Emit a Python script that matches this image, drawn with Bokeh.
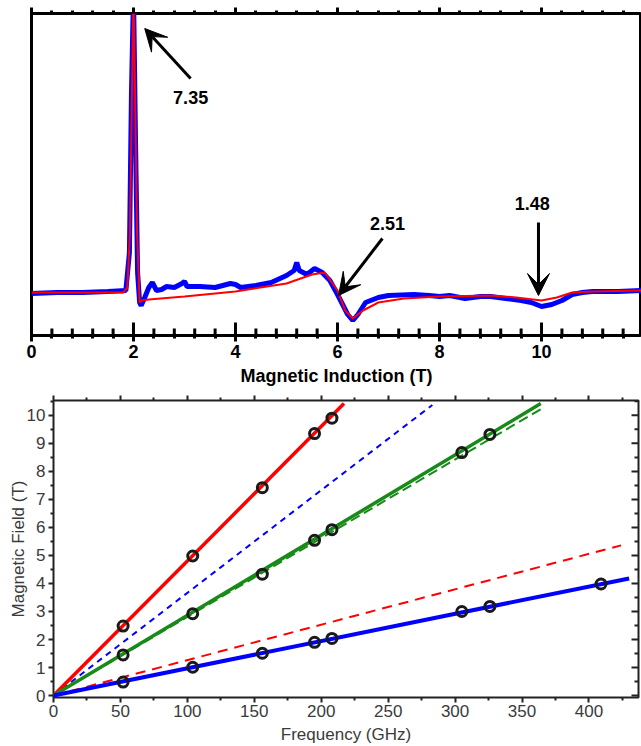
import numpy as np
from bokeh.plotting import figure
from bokeh.layouts import column
from bokeh.models import (Range1d, Arrow, VeeHead, Label, FixedTicker, LinearAxis,
                          CustomJSTickFormatter)
from bokeh.embed import file_html
from bokeh.resources import INLINE

# ---------------- top panel: EPR spectrum (arbitrary intensity units) -------------
field_sim = [0.0, 1.8, 1.88, 1.93, 1.97, 2.0, 2.03, 2.07, 2.12, 2.16, 2.3, 3.0, 4.0,
             5.0, 5.5, 5.75, 6.0, 6.15, 6.3, 6.5, 6.8, 7.3, 8.0, 9.0, 9.5, 10.0,
             10.3, 10.6, 11.0, 12.0]
signal_sim = [0, 0, 5, 60, 200, 300, 200, 60, -10, -8, -7, -4, 1,
              9, 18, 20, 2, -18, -26, -18, -10, -6, -4, -3, -5, -8,
              -5, 0, 1, 2]

field_exp = [0.0, 0.5, 1.0, 1.5, 1.85, 1.92, 1.96, 2.0, 2.04, 2.08, 2.12, 2.15,
             2.22, 2.3, 2.37, 2.45, 2.55, 2.65, 2.8, 2.95, 3.0, 3.05, 3.3, 3.6,
             3.9, 4.0, 4.1, 4.4, 4.7, 5.0, 5.15, 5.2, 5.25, 5.4, 5.55, 5.7, 5.85,
             6.0, 6.1, 6.2, 6.3, 6.4, 6.55, 6.8, 7.0, 7.5, 7.8, 8.0, 8.2, 8.5,
             8.8, 9.0, 9.3, 9.6, 9.8, 10.0, 10.2, 10.4, 10.6, 10.8, 11.0, 11.5, 12.0]
signal_exp = [-1, 0, 0, 1, 2, 40, 200, 300, 150, 20, -10, -13,
              -5, 5, 10, 2, 3, 6, 5, 9, 11, 6, 6, 5,
              9, 8, 5, 7, 10, 17, 22, 30, 22, 18, 24, 20, 12,
              -2, -12, -22, -28, -22, -10, -5, -3, -2, -3, -4, -3, -6,
              -4, -4, -6, -8, -10, -14, -12, -8, -2, 0, 1, 1, 2]

top_ticks = [0, 2, 4, 6, 8, 10]
top_minor = [0.4, 0.8, 1.2, 1.6, 2.4, 2.8, 3.2, 3.6, 4.4, 4.8, 5.2, 5.6,
             6.4, 6.8, 7.2, 7.6, 8.4, 8.8, 9.2, 9.6, 10.4, 10.8, 11.2, 11.6]

# ---------------- bottom panel: frequency-field diagram -------------------------
freq_red = [52, 104, 156, 195, 208]
field_red = [2.48, 4.98, 7.42, 9.35, 9.9]
freq_green = [52, 104, 156, 195, 208, 305, 326]
field_green = [1.45, 2.92, 4.33, 5.54, 5.92, 8.67, 9.32]
freq_blue = [52, 104, 156, 195, 208, 305, 326, 409]
field_blue = [0.48, 1.01, 1.51, 1.9, 2.04, 3.0, 3.18, 3.98]

# fitted / simulated lines (end points)
fit_red_f, fit_red_B = [0, 217], [0, 10.42]
fit_green_f, fit_green_B = [0, 364], [0, 10.42]
fit_green_dash_f, fit_green_dash_B = [0, 364], [0, 10.22]
fit_blue_f, fit_blue_B = [0, 430], [0, 4.18]
fit_blue_dash_f, fit_blue_dash_B = [0, 283], [0, 10.37]
fit_red_dash_f, fit_red_dash_B = [0, 424], [0, 5.36]

freq_ticks = [0, 50, 100, 150, 200, 250, 300, 350, 400]
freq_minor = [25, 75, 125, 175, 225, 275, 325, 375, 425]
field_ticks = [0, 1, 2, 3, 4, 5, 6, 7, 8, 9, 10]
field_minor = [0.5, 1.5, 2.5, 3.5, 4.5, 5.5, 6.5, 7.5, 8.5, 9.5, 10.5]

FONT = "Liberation Sans"
RED = "#ff0000"
BLUE = "#0000ff"
GREEN = "#188a18"
blank = CustomJSTickFormatter(code="return ''")


def tick_lines(p, pos, start, end, lw, color, vertical_axis=False):
    """Inward tick marks as one broken polyline (NaN separated)."""
    a, b = [], []
    for t in pos:
        a += [t, t, np.nan]
        b += [start, end, np.nan]
    a = np.array(a, dtype=float)
    b = np.array(b, dtype=float)
    if vertical_axis:
        p.line(b, a, line_width=lw, line_color=color)
    else:
        p.line(a, b, line_width=lw, line_color=color)


def blank_axis(ticks, minor, color, width, out_major, out_minor):
    return LinearAxis(ticker=FixedTicker(ticks=ticks, minor_ticks=minor),
                      formatter=blank, axis_line_color=None,
                      major_tick_in=0, major_tick_out=out_major,
                      minor_tick_in=0, minor_tick_out=out_minor,
                      major_tick_line_width=width, minor_tick_line_width=width,
                      major_tick_line_color=color, minor_tick_line_color=color,
                      major_label_standoff=0, major_label_text_font_size="1px")


# ================= top figure =================
X1 = (0, 11.96)
Y1 = (-43, 279)
F1_W, F1_H = 610, 322
u1 = (Y1[1] - Y1[0]) / F1_H
p1 = figure(width=641, height=390, output_backend="svg", toolbar_location=None,
            x_range=Range1d(*X1), y_range=Range1d(*Y1),
            min_border_left=31, min_border_right=0, min_border_top=13,
            min_border_bottom=55)
p1.frame_align = False
p1.grid.visible = False
p1.outline_line_color = "black"
p1.outline_line_width = 3
p1.yaxis.visible = False
p1.background_fill_color = "white"
p1.border_fill_color = "white"

xa = p1.xaxis[0]
xa.ticker = FixedTicker(ticks=top_ticks, minor_ticks=top_minor)
xa.axis_line_color = None
xa.major_tick_in = 0
xa.major_tick_out = 6
xa.minor_tick_in = 0
xa.minor_tick_out = 3
xa.major_tick_line_width = 3
xa.minor_tick_line_width = 3
xa.major_tick_line_color = "black"
xa.minor_tick_line_color = "black"
xa.major_label_standoff = 3
xa.major_label_text_font = FONT
xa.major_label_text_font_style = "bold"
xa.major_label_text_font_size = "18px"
xa.major_label_text_color = "black"
xa.axis_label = "Magnetic Induction (T)"
xa.axis_label_text_font = FONT
xa.axis_label_text_font_style = "bold"
xa.axis_label_text_font_size = "18px"
xa.axis_label_text_color = "black"
xa.axis_label_standoff = 5
p1.add_layout(blank_axis(top_ticks, top_minor, "black", 3, 6, 3), "above")

p1.line(field_exp, signal_exp, line_color=BLUE, line_width=5)
p1.line(field_sim, signal_sim, line_color=RED, line_width=2)

tick_lines(p1, top_ticks, Y1[0], Y1[0] + 13 * u1, 3, "black")
tick_lines(p1, top_minor, Y1[0], Y1[0] + 7 * u1, 3, "black")

head_kw = dict(size=22, fill_color="black", line_color="black")
p1.add_layout(Arrow(end=VeeHead(**head_kw), x_start=3.12, y_start=214,
                    x_end=2.22, y_end=264, line_width=3, line_color="black"))
p1.add_layout(Arrow(end=VeeHead(**head_kw), x_start=6.88, y_start=54,
                    x_end=6.02, y_end=-3, line_width=3, line_color="black"))
p1.add_layout(Arrow(end=VeeHead(**head_kw), x_start=9.94, y_start=70,
                    x_end=9.94, y_end=-3, line_width=3, line_color="black"))
for txt, x, y in [("7.35", 3.12, 195), ("2.51", 6.98, 69), ("1.48", 9.82, 89)]:
    p1.add_layout(Label(x=x, y=y, text=txt, text_font=FONT, text_font_style="bold",
                        text_font_size="18px", text_align="center",
                        text_baseline="middle", text_color="black"))

# ================= bottom figure =================
TXT = "#3a3a3a"
TICK = "#222222"
X2 = (0, 437)
Y2 = (-0.07, 10.53)
F2_W, F2_H = 585, 300
ux2 = (X2[1] - X2[0]) / F2_W
uy2 = (Y2[1] - Y2[0]) / F2_H
p2 = figure(width=641, height=356, output_backend="svg", toolbar_location=None,
            x_range=Range1d(*X2), y_range=Range1d(*Y2),
            min_border_left=53, min_border_right=3, min_border_top=10,
            min_border_bottom=46)
p2.frame_align = False
p2.grid.visible = False
p2.outline_line_color = TICK
p2.outline_line_width = 2
p2.background_fill_color = "white"
p2.border_fill_color = "white"

for ax in (p2.xaxis[0], p2.yaxis[0]):
    ax.axis_line_color = None
    ax.major_tick_in = 0
    ax.major_tick_out = 5
    ax.minor_tick_in = 0
    ax.minor_tick_out = 3
    ax.major_tick_line_width = 2
    ax.minor_tick_line_width = 2
    ax.major_tick_line_color = TICK
    ax.minor_tick_line_color = TICK
    ax.major_label_text_font = FONT
    ax.major_label_text_font_size = "17px"
    ax.major_label_text_color = TXT
    ax.axis_label_text_font = FONT
    ax.axis_label_text_font_size = "17px"
    ax.axis_label_text_font_style = "normal"
    ax.axis_label_text_color = TXT

p2.xaxis[0].ticker = FixedTicker(ticks=freq_ticks, minor_ticks=freq_minor)
p2.yaxis[0].ticker = FixedTicker(ticks=field_ticks, minor_ticks=field_minor)
p2.xaxis[0].axis_label = "Frequency (GHz)"
p2.xaxis[0].major_label_standoff = 2
p2.xaxis[0].axis_label_standoff = 5
p2.yaxis[0].axis_label = "Magnetic Field (T)"
p2.yaxis[0].major_label_standoff = 3
p2.yaxis[0].axis_label_standoff = -4
p2.add_layout(blank_axis(freq_ticks, freq_minor, TICK, 2, 5, 3), "above")

p2.line(fit_blue_dash_f, fit_blue_dash_B, line_color=BLUE, line_width=2, line_dash="6 5")
p2.line(fit_red_dash_f, fit_red_dash_B, line_color=RED, line_width=2, line_dash="10 7")
p2.line(fit_green_dash_f, fit_green_dash_B, line_color=GREEN, line_width=2, line_dash="10 5")
p2.line(fit_red_f, fit_red_B, line_color=RED, line_width=3.5)
p2.line(fit_green_f, fit_green_B, line_color=GREEN, line_width=3.5)
p2.line(fit_blue_f, fit_blue_B, line_color=BLUE, line_width=4)

for fx, fy in [(freq_red, field_red), (freq_green, field_green), (freq_blue, field_blue)]:
    p2.scatter(fx, fy, marker="circle", size=10, fill_alpha=0,
               line_color="#1a1a1a", line_width=3)

tick_lines(p2, field_ticks, X2[1], X2[1] - 7 * ux2, 2, TICK, vertical_axis=True)
tick_lines(p2, field_minor, X2[1], X2[1] - 4 * ux2, 2, TICK, vertical_axis=True)

layout = column(p1, p2, spacing=0)
open("out.html", "w").write(file_html(layout, INLINE))
